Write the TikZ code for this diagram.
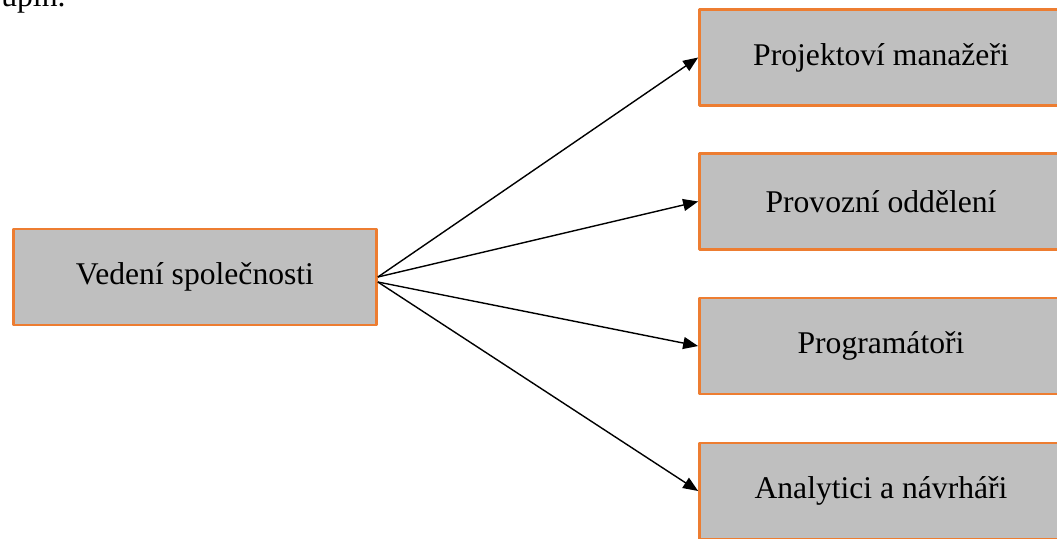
\documentclass[tikz,border=0pt]{standalone}
\usepackage{fontspec}
\setmainfont{Liberation Serif}
\usetikzlibrary{arrows.meta}
\definecolor{cam}{HTML}{ED7D31}
\definecolor{xam}{HTML}{BFBFBF}
\begin{document}
\begin{tikzpicture}[x=0.02cm,y=-0.02cm,line join=round,>={Triangle[length=3mm,width=2.4mm]},font=\fontsize{18}{22}\selectfont,
	hop/.style={draw=cam,line width=1.6pt,fill=xam,minimum width=7.26cm,minimum height=1.92cm,inner sep=0pt}]
			\useasboundingbox (0,0) rectangle (1057,538);
			%Phần chữ bị cắt ở trên
			\node[anchor=base west,inner sep=0pt] (dong) at (1,6) {upin.};
			%Ô bên trái
			\node[hop] (VD) at (195,277) {Vedení společnosti};
			%Các ô bên phải
			\node[hop] (PM) at (881,57.5) {Projektoví manažeři};
			\node[hop] (PO) at (881,201.5) {Provozní oddělení};
			\node[hop] (PR) at (881,346) {Programátoři};
			\node[hop] (AN) at (881,491) {Analytici a návrháři};
			%Vẽ các mũi tên
			\draw[->,line width=0.8pt] (VD.east)--(PM.west);
			\draw[->,line width=0.8pt] (VD.east)--(PO.west);
			\draw[->,line width=0.8pt] ([yshift=-1mm]VD.east)--(PR.west);
			\draw[->,line width=0.8pt] ([yshift=-1mm]VD.east)--(AN.west);
		\end{tikzpicture}
\end{document}
